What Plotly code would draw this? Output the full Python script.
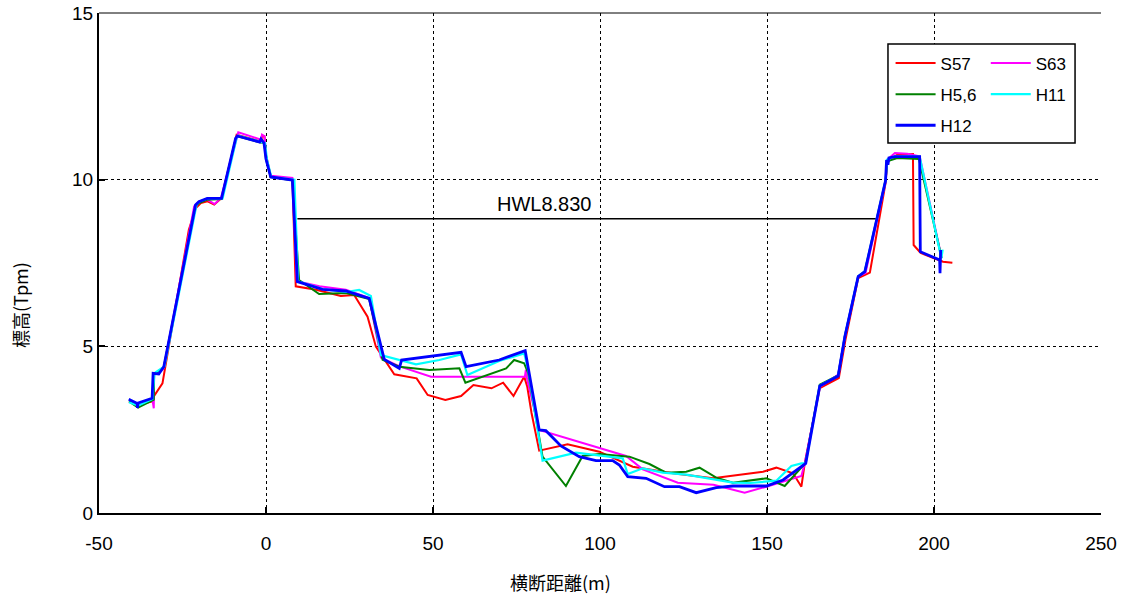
import plotly.graph_objects as go

# ---- data (x: 横断距離 m, y: 標高 Tpm) ----
s57_x = [-41.0, -38.3, -34.0, -33.6, -31.0, -23.1, -21.0, -19.5, -17.5, -15.5, -13.3, -8.8, -1.5, -1.2, -0.5, 0.0, 1.4, 7.9, 8.9, 15.0, 22.4, 26.4, 30.4, 32.9, 38.4, 45.1, 48.4, 53.7, 58.4, 62.1, 67.5, 71.0, 74.1, 77.3, 78.2, 79.5, 81.8, 90.3, 99.8, 109.8, 121.8, 133.8, 148.8, 152.8, 157.8, 160.3, 161.3, 165.8, 171.5, 173.5, 177.3, 179.3, 180.8, 185.5, 186.0, 189.0, 193.7, 193.9, 196.0, 202.7, 205.5]
s57_y = [3.35, 3.25, 3.35, 3.50, 3.89, 8.50, 9.15, 9.30, 9.35, 9.25, 9.45, 11.35, 11.15, 11.30, 11.30, 10.75, 10.10, 10.00, 6.80, 6.70, 6.51, 6.54, 5.89, 4.99, 4.16, 4.04, 3.54, 3.39, 3.51, 3.84, 3.74, 3.91, 3.51, 4.09, 3.80, 3.00, 1.87, 2.06, 1.84, 1.39, 1.19, 1.04, 1.24, 1.36, 1.19, 0.79, 1.49, 3.75, 4.05, 5.20, 7.05, 7.15, 7.21, 9.90, 10.55, 10.75, 10.77, 8.04, 7.80, 7.54, 7.51]

s63_x = [-41.0, -38.3, -34.0, -33.6, -33.5, -32.0, -30.6, -21.5, -20.0, -17.6, -15.4, -13.5, -8.3, -1.5, -1.2, -0.4, 0.0, 1.4, 7.9, 9.2, 16.0, 23.9, 30.9, 34.4, 40.0, 49.4, 77.5, 77.8, 78.2, 81.8, 107.8, 112.8, 123.3, 134.0, 143.3, 149.8, 160.3, 161.3, 165.8, 171.3, 173.3, 177.3, 179.5, 185.5, 186.0, 188.3, 192.0, 195.7, 202.3]
s63_y = [3.38, 3.28, 3.40, 3.14, 4.15, 4.20, 4.35, 9.20, 9.35, 9.40, 9.27, 9.45, 11.42, 11.20, 11.35, 11.30, 10.70, 10.12, 10.05, 6.95, 6.80, 6.70, 6.45, 4.66, 4.40, 4.09, 4.09, 4.29, 4.00, 2.49, 1.71, 1.31, 0.91, 0.85, 0.61, 0.79, 1.11, 1.50, 3.78, 4.15, 5.30, 7.10, 7.20, 9.95, 10.60, 10.80, 10.78, 10.70, 7.65]

h56_x = [-41.0, -38.3, -34.0, -33.6, -33.5, -30.6, -21.1, -20.0, -17.6, -13.3, -9.0, -8.5, -1.9, -0.5, 0.0, 1.4, 7.9, 9.9, 15.9, 23.9, 30.9, 34.9, 39.9, 48.9, 57.9, 59.7, 71.9, 74.3, 77.3, 78.5, 82.8, 89.8, 94.8, 99.8, 108.8, 114.8, 119.8, 125.8, 129.8, 134.8, 139.8, 149.8, 155.3, 160.3, 161.5, 165.8, 171.3, 173.3, 177.3, 179.3, 185.5, 186.0, 189.0, 195.5, 202.3]
h56_y = [3.35, 3.16, 3.38, 3.40, 4.15, 4.38, 9.20, 9.30, 9.40, 9.42, 11.25, 11.30, 11.12, 11.10, 10.62, 10.08, 9.98, 6.99, 6.57, 6.60, 6.42, 4.60, 4.39, 4.29, 4.34, 3.91, 4.34, 4.59, 4.49, 4.20, 1.69, 0.81, 1.71, 1.77, 1.69, 1.47, 1.21, 1.24, 1.36, 1.06, 0.91, 1.04, 0.81, 1.39, 1.50, 3.85, 4.13, 5.30, 7.10, 7.25, 9.98, 10.55, 10.65, 10.62, 7.65]

h11_x = [-41.0, -38.3, -34.0, -33.4, -30.4, -20.8, -19.8, -17.3, -13.0, -8.8, -8.3, -1.6, -0.3, 0.3, 1.6, 8.5, 9.6, 16.9, 23.9, 27.9, 31.4, 34.4, 44.9, 51.9, 58.4, 60.3, 69.8, 77.3, 78.5, 82.8, 92.8, 106.8, 108.3, 112.8, 118.8, 125.8, 139.8, 145.0, 152.8, 157.3, 160.3, 161.6, 165.8, 171.3, 173.3, 177.3, 179.3, 185.5, 185.9, 188.3, 195.7, 202.2, 202.6]
h11_y = [3.32, 3.22, 3.42, 4.20, 4.40, 9.25, 9.35, 9.44, 9.44, 11.25, 11.32, 11.15, 11.10, 10.60, 10.08, 10.00, 6.95, 6.72, 6.63, 6.69, 6.51, 4.74, 4.46, 4.59, 4.76, 4.14, 4.56, 4.79, 4.30, 1.57, 1.81, 1.64, 1.17, 1.34, 1.21, 1.15, 0.91, 0.90, 0.97, 1.41, 1.49, 1.50, 3.82, 4.12, 5.30, 7.10, 7.25, 9.98, 10.60, 10.70, 10.69, 7.64, 7.90]

h12_x = [-41.1, -38.6, -38.5, -38.3, -34.1, -33.8, -32.1, -30.6, -21.1, -20.1, -17.6, -13.3, -9.1, -8.6, -1.9, -1.5, -0.6, 0.0, 1.4, 7.9, 9.4, 16.9, 23.9, 30.9, 35.4, 39.9, 40.6, 58.4, 59.9, 69.8, 77.6, 81.8, 83.8, 88.3, 93.8, 98.8, 103.8, 105.8, 108.3, 113.8, 119.3, 123.8, 128.8, 134.8, 139.8, 149.8, 154.8, 161.6, 165.8, 171.3, 173.3, 177.3, 179.3, 185.5, 185.8, 186.2, 186.5, 188.3, 195.7, 195.9, 201.7, 201.8, 202.0]
h12_y = [3.41, 3.29, 3.15, 3.30, 3.44, 4.19, 4.17, 4.39, 9.24, 9.34, 9.44, 9.44, 11.24, 11.31, 11.13, 11.22, 11.10, 10.62, 10.08, 9.99, 6.94, 6.71, 6.66, 6.44, 4.61, 4.34, 4.59, 4.82, 4.39, 4.59, 4.87, 2.49, 2.47, 2.01, 1.69, 1.57, 1.57, 1.44, 1.09, 1.04, 0.79, 0.79, 0.61, 0.76, 0.81, 0.81, 0.99, 1.49, 3.81, 4.11, 5.29, 7.09, 7.24, 9.97, 10.59, 10.45, 10.65, 10.69, 10.69, 7.84, 7.59, 7.19, 7.89]

hwl_level = 8.83
hwl_x = [9.4, 182.9]
hwl_label = "HWL8.830"

x_ticks = [-50, 0, 50, 100, 150, 200, 250]
y_ticks = [0, 5, 10, 15]

series = [
    ("S57", s57_x, s57_y, "#ff0000", 2.0, "legend"),
    ("S63", s63_x, s63_y, "#ff00ff", 2.0, "legend2"),
    ("H5,6", h56_x, h56_y, "#008000", 2.0, "legend"),
    ("H11", h11_x, h11_y, "#00ffff", 2.2, "legend2"),
    ("H12", h12_x, h12_y, "#0000ff", 2.8, "legend"),
]

FONT = "Liberation Sans, Arial, sans-serif"
CJK = "Noto Sans CJK JP, sans-serif"

fig = go.Figure()

# HWL line
fig.add_trace(go.Scatter(x=hwl_x, y=[hwl_level, hwl_level], mode="lines",
                         line=dict(color="black", width=1.5), showlegend=False,
                         hoverinfo="skip"))

for name, xs, ys, col, w, lg in series:
    fig.add_trace(go.Scatter(x=xs, y=ys, mode="lines", name=name,
                             line=dict(color=col, width=w),
                             legend=lg, legendgroup=name))

fig.add_annotation(x=83.5, y=hwl_level, yshift=2, text=hwl_label,
                   showarrow=False, yanchor="bottom", xref="x", yref="y",
                   font=dict(family=FONT, size=20, color="black"))

# legend frame
fig.add_shape(type="rect", xref="paper", yref="paper",
              x0=0.7874, x1=0.9741, y0=0.74, y1=0.938,
              line=dict(color="black", width=1.5), fillcolor="white", layer="above")
# top frame line
fig.add_shape(type="line", xref="paper", yref="paper", x0=0, x1=1, y0=1, y1=1,
              line=dict(color="black", width=1), layer="above")

fig.update_layout(
    template="none",
    width=1123, height=599,
    margin=dict(l=99, r=22, t=13, b=86, autoexpand=False),
    paper_bgcolor="white", plot_bgcolor="white",
    font=dict(family=FONT, size=19, color="black"),
    showlegend=True,
    legend=dict(x=0.79, y=0.935, xanchor="left", yanchor="top",
                bgcolor="rgba(0,0,0,0)", borderwidth=0,
                font=dict(family=FONT, size=17), tracegroupgap=6,
                itemwidth=40),
    legend2=dict(x=0.885, y=0.935, xanchor="left", yanchor="top",
                 bgcolor="rgba(0,0,0,0)", borderwidth=0,
                 font=dict(family=FONT, size=17), tracegroupgap=6,
                 itemwidth=40),
    xaxis=dict(range=[-50, 250], tickvals=x_ticks, ticktext=[str(v) for v in x_ticks],
               automargin=False, ticklabelstandoff=12,
               showline=True, linecolor="black", linewidth=2,
               ticks="inside", ticklen=6, tickwidth=2, tickcolor="black",
               showgrid=True, gridcolor="black", griddash="dot", gridwidth=1,
               zeroline=False, tickfont=dict(size=19)),
    yaxis=dict(range=[0, 15], tickvals=y_ticks, ticktext=[str(v) for v in y_ticks],
               automargin=False,
               showline=True, linecolor="black", linewidth=2,
               ticks="inside", ticklen=6, tickwidth=2, tickcolor="black",
               showgrid=True, gridcolor="black", griddash="dot", gridwidth=1,
               zeroline=False, tickfont=dict(size=19)),
)

fig.add_annotation(text="横断距離(m)", xref="paper", yref="paper",
                   x=(560 - 99) / 1002, y=-(582 - 513) / 500,
                   showarrow=False, xanchor="center", yanchor="middle",
                   font=dict(family=CJK, size=18, color="black"))
fig.add_annotation(text="標高(Tpm)", xref="paper", yref="paper",
                   x=-(99 - 20) / 1002, y=(513 - 305) / 500, textangle=-90,
                   showarrow=False, xanchor="center", yanchor="middle",
                   font=dict(family=CJK, size=18, color="black"))

fig.write_html("out.html", config={"displayModeBar": False},
               post_script="document.body.style.margin='0px';")
